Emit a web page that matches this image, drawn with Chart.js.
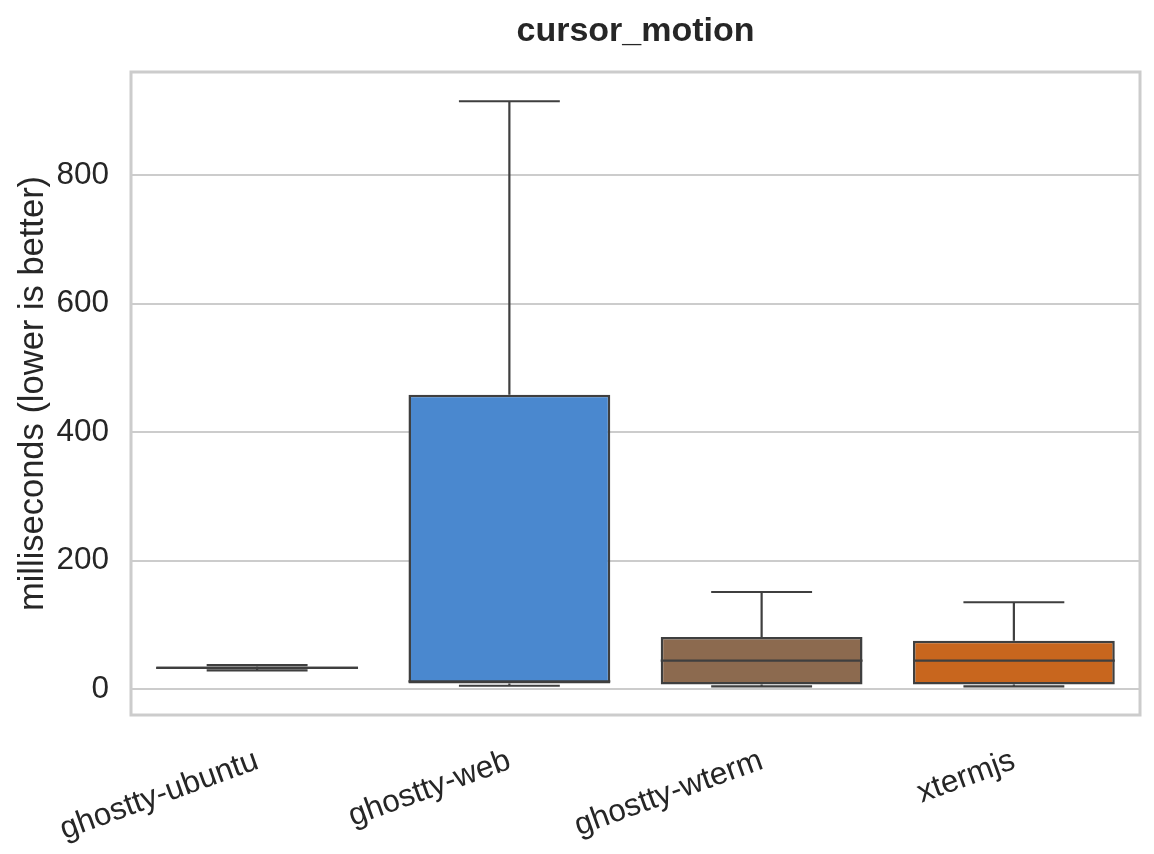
<!DOCTYPE html>
<html>
<head>
<meta charset="utf-8">
<script src="https://cdn.jsdelivr.net/npm/chart.js@4/dist/chart.umd.min.js"></script>
<style>
  html, body { margin: 0; padding: 0; background: #fff; }
  #wrap { width: 1154px; height: 854px; }
</style>
</head>
<body>
<div id="wrap"><canvas id="boxChart" width="1154" height="854"></canvas></div>
<script>
// cursor_motion boxplot
const categories = ['ghostty-ubuntu', 'ghostty-web', 'ghostty-wterm', 'xtermjs'];
const whiskerLow = [29, 5, 4, 4];
const q1 = [31, 8.5, 7, 7];
const medians = [33, 12, 44, 44];
const q3 = [35, 458, 81, 75];
const whiskerHigh = [37, 915, 151, 135];
const boxColors = ['#6a9f58', '#4a88cf', '#8c6a4f', '#c8661e'];
const yTicks = [0, 200, 400, 600, 800];

const FONT = '"Liberation Sans", Arial, Helvetica, sans-serif';
const TEXT = '#262626';
const LINE = '#3f3f3f';
const GRID = '#cccccc';

// frame around the plot area, drawn under the boxes
const framePlugin = {
    id: 'frame',
    beforeDatasetsDraw(chart) {
        const { ctx, chartArea: a } = chart;
        ctx.save();
        ctx.strokeStyle = GRID;
        ctx.lineWidth = 3;
        ctx.strokeRect(a.left, a.top, a.right - a.left, a.bottom - a.top);
        ctx.restore();
    }
};

// whiskers, caps and medians placed through the scales
const boxPlugin = {
    id: 'boxExtras',
    beforeDatasetsDraw(chart) {
        const { ctx } = chart;
        const y = chart.scales.y;
        const meta = chart.getDatasetMeta(0);
        ctx.save();
        ctx.strokeStyle = LINE;
        ctx.lineWidth = 2.2;
        meta.data.forEach((bar, i) => {
            const x = bar.x;
            const capHalf = bar.width / 4;
            const yLo = y.getPixelForValue(whiskerLow[i]);
            const yHi = y.getPixelForValue(whiskerHigh[i]);
            ctx.beginPath();
            ctx.moveTo(x, y.getPixelForValue(q3[i]));
            ctx.lineTo(x, yHi);
            ctx.moveTo(x, y.getPixelForValue(q1[i]));
            ctx.lineTo(x, yLo);
            ctx.moveTo(x - capHalf, yHi);
            ctx.lineTo(x + capHalf, yHi);
            ctx.moveTo(x - capHalf, yLo);
            ctx.lineTo(x + capHalf, yLo);
            ctx.stroke();
        });
        ctx.restore();
    },
    afterDatasetsDraw(chart) {
        const { ctx } = chart;
        const y = chart.scales.y;
        const meta = chart.getDatasetMeta(0);
        ctx.save();
        ctx.strokeStyle = LINE;
        ctx.lineWidth = 2.2;
        meta.data.forEach((bar, i) => {
            const ym = y.getPixelForValue(medians[i]);
            ctx.beginPath();
            ctx.moveTo(bar.x - bar.width / 2, ym);
            ctx.lineTo(bar.x + bar.width / 2, ym);
            ctx.stroke();
        });
        ctx.restore();
    }
};

// title centred over the plot area rather than the canvas
const titlePlugin = {
    id: 'plotTitle',
    afterDraw(chart) {
        const { ctx, chartArea: a } = chart;
        ctx.save();
        ctx.fillStyle = TEXT;
        ctx.font = 'bold 34px ' + FONT;
        ctx.textAlign = 'center';
        ctx.textBaseline = 'alphabetic';
        ctx.fillText('cursor_motion', (a.left + a.right) / 2, 41);
        ctx.restore();
    }
};

const ctx = document.getElementById('boxChart').getContext('2d');
new Chart(ctx, {
    type: 'bar',
    data: {
        labels: categories,
        datasets: [{
            data: categories.map((c, i) => [q1[i], q3[i]]),
            backgroundColor: boxColors,
            borderColor: LINE,
            borderWidth: 2.5,
            borderSkipped: false,
            barPercentage: 0.8,
            categoryPercentage: 1.0
        }]
    },
    options: {
        responsive: false,
        animation: false,
        layout: { padding: { top: 72, right: 14, left: 0, bottom: 0 } },
        plugins: {
            legend: { display: false },
            title: { display: false },
            tooltip: { enabled: false }
        },
        scales: {
            x: {
                grid: { display: false, drawTicks: false },
                border: { display: false },
                ticks: {
                    color: TEXT,
                    font: { family: FONT, size: 31.5 },
                    minRotation: 20,
                    maxRotation: 20,
                    padding: 27
                },
                afterFit(scale) { scale.height = 139; }
            },
            y: {
                min: -40.5,
                max: 960.5,
                grid: { color: GRID, lineWidth: 2, drawTicks: false },
                border: { display: false },
                ticks: {
                    color: TEXT,
                    font: { family: FONT, size: 31.5 },
                    padding: 22
                },
                afterBuildTicks(scale) {
                    scale.ticks = yTicks.map(v => ({ value: v }));
                },
                title: {
                    display: true,
                    text: 'milliseconds (lower is better)',
                    color: TEXT,
                    font: { family: FONT, size: 34.5 },
                    padding: { top: 13, bottom: 0 }
                },
                afterFit(scale) { scale.width = 131; }
            }
        }
    },
    plugins: [framePlugin, boxPlugin, titlePlugin]
});
</script>
</body>
</html>
